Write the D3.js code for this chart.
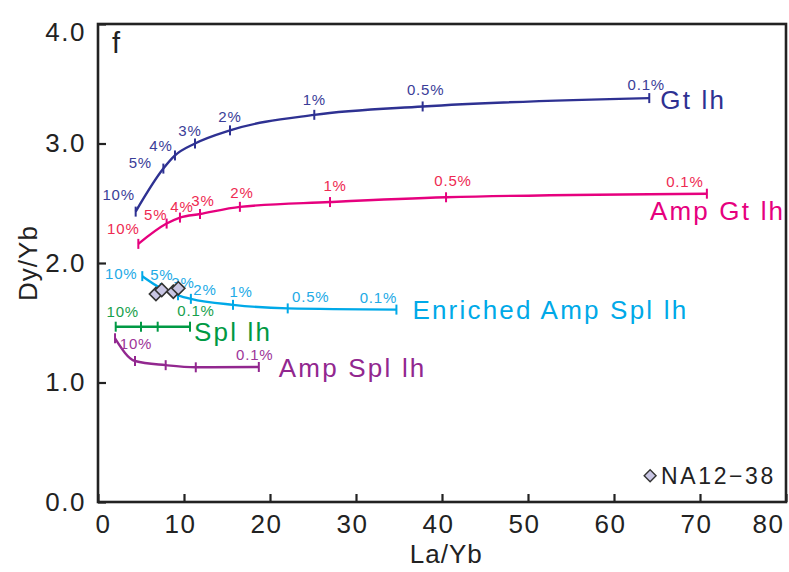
<!DOCTYPE html>
<html><head><meta charset="utf-8">
<script src="https://cdn.jsdelivr.net/npm/d3@7"></script>
<style>
html,body{margin:0;padding:0;background:#fff;}
text{font-family:"Liberation Sans",Arial,sans-serif;}
</style></head>
<body><svg id="chart" width="789" height="572"></svg>
<script>
// ---- data ----
const xTicks = [0,10,20,30,40,50,60,70,80];
const yTicks = [0.0,1.0,2.0,3.0,4.0];

const gtName = "Gt lh";
const gtPct = ["10%","5%","4%","3%","2%","1%","0.5%","0.1%"];
const gtX = [4.38,7.6,8.95,11.28,15.35,25.15,37.75,64.1];
const gtY = [2.43,2.79,2.90,3.00,3.11,3.24,3.31,3.38];

const ampGtName = "Amp Gt lh";
const ampGtPct = ["10%","5%","4%","3%","2%","1%","0.5%","0.1%"];
const ampGtX = [4.69,7.98,9.53,11.86,16.5,26.98,40.47,70.8];
const ampGtY = [2.16,2.33,2.38,2.41,2.47,2.51,2.55,2.58];

const enrName = "Enriched Amp Spl lh";
const enrPct = ["10%","5%","3%","2%","1%","0.5%","0.1%"];
const enrX = [5.15,7.3,9.3,10.8,15.7,22.06,34.7];
const enrY = [1.89,1.79,1.73,1.70,1.65,1.62,1.61];

const splName = "Spl lh";
const splPct = ["10%","5%","3%","0.1%"];
const splX = [2.06,5.0,6.94,10.7];
const splY = [1.467,1.467,1.467,1.467];

const ampSplName = "Amp Spl lh";
const ampSplPct = ["10%","5%","3%","1%","0.1%"];
const ampSplX = [1.98,4.3,7.87,11.37,18.7];
const ampSplY = [1.37,1.18,1.145,1.127,1.13];

const sampleName = "NA12\u221238";
const sampleX = [6.74,7.41,8.76,9.34];
const sampleY = [1.74,1.774,1.76,1.788];

// ---- layout / style (not data) ----
const W = 789, H = 572;
const m = {left:98, top:24, right:3, bottom:70};
const iw = W - m.left - m.right, ih = H - m.top - m.bottom;

const styles = {
  gt:     {line:"#2e3192", lab:"#3a3d98", nameOff:[11,2]},
  ampGt:  {line:"#e6007e", lab:"#ee2a52", nameOff:[-57,17]},
  enr:    {line:"#00a9e8", lab:"#22aae6", nameOff:[16,0]},
  spl:    {line:"#009944", lab:"#17a04c", nameOff:[4,5]},
  ampSpl: {line:"#92278f", lab:"#9d3599", nameOff:[20,1]}
};
const labelOffsets = {
  gt: {"10%":[-17,-17],"5%":[-23,-6],"4%":[-14,-10],"3%":[-5,-13],"2%":[0,-14],"1%":[0,-15],"0.5%":[3,-17],"0.1%":[-3,-14]},
  ampGt: {"10%":[-15,-15],"5%":[-11,-9],"4%":[2,-11],"3%":[3,-14],"2%":[2,-14],"1%":[5,-17],"0.5%":[7,-17],"0.1%":[-22,-12]},
  enr: {"10%":[-21,-3],"5%":[1,-14],"3%":[5,-13],"2%":[14,-9],"1%":[8,-13],"0.5%":[23,-12],"0.1%":[-18,-12]},
  spl: {"10%":[7,-15],"0.1%":[6,-16]},
  ampSpl: {"10%":[21,5],"0.1%":[-4,-12]}
};

const series = [
  {key:"gt", name:gtName, pct:gtPct, x:gtX, y:gtY},
  {key:"ampGt", name:ampGtName, pct:ampGtPct, x:ampGtX, y:ampGtY},
  {key:"enr", name:enrName, pct:enrPct, x:enrX, y:enrY},
  {key:"spl", name:splName, pct:splPct, x:splX, y:splY},
  {key:"ampSpl", name:ampSplName, pct:ampSplPct, x:ampSplX, y:ampSplY}
];

const svg = d3.select("#chart");
const g = svg.append("g").attr("transform",`translate(${m.left},${m.top})`);
const x = d3.scaleLinear().domain([0,80]).range([0,iw]);
const y = d3.scaleLinear().domain([0,4]).range([ih,0]);

// axes (inward ticks)
const xAxis = g.append("g").attr("transform",`translate(0,${ih})`)
  .call(d3.axisBottom(x).tickValues(xTicks).tickSize(-8).tickPadding(13).tickFormat(d3.format("d")));
const yAxis = g.append("g")
  .call(d3.axisLeft(y).tickValues(yTicks).tickSize(-8).tickPadding(12).tickFormat(d3.format(".1f")));
[xAxis,yAxis].forEach(a=>{
  a.select(".domain").remove();
  a.selectAll(".tick line").attr("stroke","#222").attr("stroke-width",2.2);
  a.selectAll(".tick text").attr("fill","#222").style("font-size","26px").style("letter-spacing","1.5px")
   .style("font-family","'Liberation Sans',Arial,sans-serif");
});
yAxis.selectAll(".tick text").filter(d=>d===4).attr("dy","0.62em");
xAxis.selectAll(".tick text").attr("dy","0.71em")
  .attr("dx", d => d===0 ? 5 : -4)
  .filter(d=>d===80).attr("text-anchor","end").attr("dx",-2);

// frame
g.append("rect").attr("x",0).attr("y",0).attr("width",iw).attr("height",ih)
  .attr("fill","none").attr("stroke","#222").attr("stroke-width",2.6);

// axis titles
svg.append("text").attr("x", m.left + x(40.5)).attr("y", 563).attr("text-anchor","middle")
  .attr("fill","#222").style("font-size","26px").style("letter-spacing","1px").text("La/Yb");
svg.append("text").attr("transform",`translate(37,${m.top + y(2)}) rotate(-90)`).attr("text-anchor","middle")
  .attr("fill","#222").style("font-size","26px").style("letter-spacing","1px").text("Dy/Yb");
svg.append("text").attr("x", m.left + 14).attr("y", m.top + 29).attr("fill","#222")
  .style("font-size","29px").text("f");

// curves
const line = d3.line().x(d=>x(d.x)).y(d=>y(d.y)).curve(d3.curveMonotoneX);
series.forEach(s=>{
  const st = styles[s.key];
  const pts = s.x.map((v,i)=>({x:v,y:s.y[i],p:s.pct[i]}));
  const sg = g.append("g");
  sg.append("path").datum(pts).attr("d",line).attr("fill","none")
    .attr("stroke",st.line).attr("stroke-width",2.4);
  sg.selectAll("line.tk").data(pts).join("line").attr("class","tk")
    .attr("x1",d=>x(d.x)).attr("x2",d=>x(d.x))
    .attr("y1",d=>y(d.y)-5).attr("y2",d=>y(d.y)+5)
    .attr("stroke",st.line).attr("stroke-width",2);
  const offs = labelOffsets[s.key];
  sg.selectAll("text.pl").data(pts.filter(d=>offs[d.p])).join("text").attr("class","pl")
    .attr("x",d=>x(d.x)+offs[d.p][0]).attr("y",d=>y(d.y)+offs[d.p][1])
    .attr("text-anchor","middle").attr("dominant-baseline","central")
    .attr("fill",st.lab).style("font-size","15px").style("letter-spacing","0.8px").text(d=>d.p);
  const last = pts[pts.length-1];
  sg.append("text").attr("x",x(last.x)+st.nameOff[0]).attr("y",y(last.y)+st.nameOff[1])
    .attr("dominant-baseline","central").attr("fill",st.line)
    .style("font-size","26px").style("letter-spacing","2.2px").text(s.name);
});

// sample diamonds
const diamond = d3.symbol().type(d3.symbolDiamond2).size(110);
g.selectAll("path.smp").data(sampleX.map((v,i)=>({x:v,y:sampleY[i]}))).join("path").attr("class","smp")
  .attr("transform",d=>`translate(${x(d.x)},${y(d.y)})`).attr("d",diamond)
  .attr("fill","#c9c6e4").attr("stroke","#333").attr("stroke-width",1.6);

// legend
const lg = g.append("g").attr("transform",`translate(${x(64.2)},${y(0.22)})`);
lg.append("path").attr("d",d3.symbol().type(d3.symbolDiamond2).size(90))
  .attr("fill","#c9c6e4").attr("stroke","#333").attr("stroke-width",1.4);
lg.append("text").attr("x",11).attr("y",0).attr("dominant-baseline","central")
  .attr("fill","#222").style("font-size","23px").style("letter-spacing","2.6px").text(sampleName);
</script></body></html>
